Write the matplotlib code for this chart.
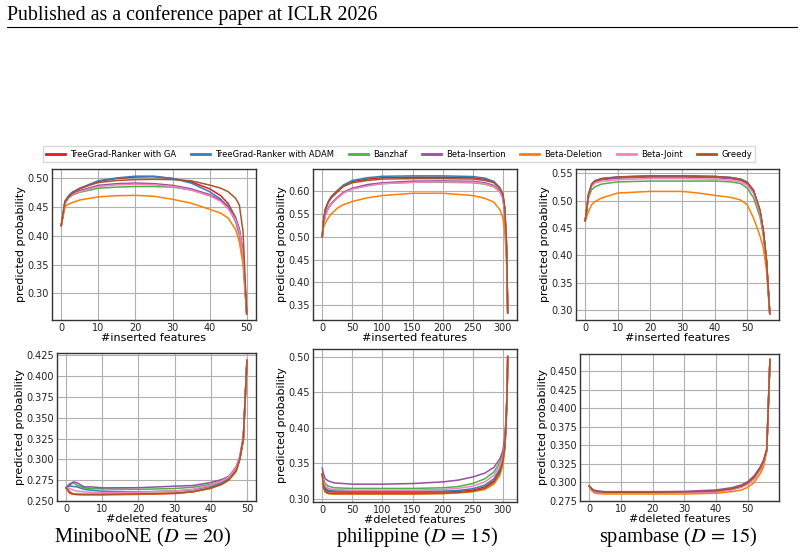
import matplotlib.pyplot as plt
from matplotlib.lines import Line2D
from matplotlib.ticker import MultipleLocator

plt.rcParams['mathtext.fontset'] = 'stix'

methods = ['TreeGrad-Ranker with GA', 'TreeGrad-Ranker with ADAM', 'Banzhaf',
           'Beta-Insertion', 'Beta-Deletion', 'Beta-Joint', 'Greedy']
colors = ['#e41a1c', '#377eb8', '#4daf4a', '#984ea3', '#ff7f00', '#f781bf', '#a65628']

# MiniBooNE, insertion
x_mb_ins = [0, 1, 2, 3, 5, 10, 15, 20, 25, 30, 35, 40, 43, 45, 47, 48, 49, 50]
mb_ins = [
    [0.418, 0.460, 0.470, 0.476, 0.482, 0.495, 0.500, 0.5025, 0.503, 0.500, 0.494, 0.482, 0.470, 0.456, 0.432, 0.412, 0.372, 0.264],
    [0.418, 0.460, 0.470, 0.476, 0.483, 0.496, 0.501, 0.504, 0.504, 0.500, 0.492, 0.477, 0.464, 0.450, 0.425, 0.402, 0.362, 0.264],
    [0.418, 0.456, 0.466, 0.471, 0.476, 0.483, 0.485, 0.486, 0.486, 0.485, 0.480, 0.470, 0.462, 0.452, 0.430, 0.410, 0.370, 0.264],
    [0.418, 0.458, 0.468, 0.473, 0.479, 0.488, 0.491, 0.492, 0.491, 0.488, 0.482, 0.472, 0.462, 0.450, 0.430, 0.410, 0.370, 0.264],
    [0.418, 0.451, 0.4556, 0.458, 0.4625, 0.468, 0.470, 0.4706, 0.469, 0.4637, 0.457, 0.4464, 0.4395, 0.431, 0.411, 0.390, 0.350, 0.264],
    [0.418, 0.457, 0.467, 0.472, 0.477, 0.486, 0.489, 0.490, 0.489, 0.486, 0.480, 0.470, 0.460, 0.447, 0.428, 0.408, 0.368, 0.264],
    [0.418, 0.460, 0.468, 0.474, 0.483, 0.493, 0.4965, 0.498, 0.4985, 0.498, 0.496, 0.4885, 0.483, 0.477, 0.4655, 0.454, 0.408, 0.264],
]

# philippine, insertion
x_ph_ins = [0, 2, 5, 10, 15, 25, 35, 50, 75, 100, 150, 200, 250, 270, 285, 295, 300, 303, 306, 308]
ph_ins = [
    [0.50, 0.534, 0.558, 0.575, 0.585, 0.598, 0.610, 0.620, 0.626, 0.629, 0.630, 0.630, 0.629, 0.626, 0.619, 0.605, 0.590, 0.560, 0.48, 0.333],
    [0.50, 0.535, 0.560, 0.577, 0.588, 0.601, 0.613, 0.623, 0.629, 0.632, 0.633, 0.633, 0.6315, 0.628, 0.621, 0.607, 0.592, 0.563, 0.48, 0.333],
    [0.50, 0.528, 0.547, 0.562, 0.572, 0.585, 0.596, 0.605, 0.612, 0.616, 0.619, 0.619, 0.618, 0.615, 0.609, 0.598, 0.585, 0.556, 0.47, 0.333],
    [0.50, 0.528, 0.548, 0.563, 0.573, 0.586, 0.597, 0.606, 0.614, 0.618, 0.6215, 0.622, 0.621, 0.618, 0.612, 0.600, 0.585, 0.555, 0.47, 0.333],
    [0.50, 0.520, 0.530, 0.541, 0.550, 0.5625, 0.570, 0.577, 0.585, 0.590, 0.595, 0.595, 0.590, 0.584, 0.5755, 0.559, 0.541, 0.512, 0.45, 0.333],
    [0.50, 0.527, 0.546, 0.561, 0.571, 0.584, 0.595, 0.604, 0.611, 0.616, 0.619, 0.620, 0.619, 0.616, 0.610, 0.598, 0.583, 0.553, 0.47, 0.333],
    [0.50, 0.535, 0.560, 0.576, 0.587, 0.600, 0.610, 0.618, 0.623, 0.626, 0.627, 0.627, 0.626, 0.623, 0.618, 0.606, 0.593, 0.565, 0.49, 0.333],
]

# spambase, insertion
x_sp_ins = [0, 1, 2, 3, 5, 10, 20, 30, 35, 40, 45, 48, 50, 52, 54, 55, 56, 57]
sp_ins = [
    [0.463, 0.510, 0.529, 0.535, 0.539, 0.542, 0.544, 0.544, 0.5435, 0.543, 0.541, 0.538, 0.532, 0.517, 0.480, 0.444, 0.390, 0.294],
    [0.463, 0.511, 0.530, 0.536, 0.540, 0.543, 0.545, 0.545, 0.5445, 0.544, 0.542, 0.539, 0.533, 0.518, 0.481, 0.445, 0.390, 0.294],
    [0.463, 0.505, 0.520, 0.525, 0.530, 0.534, 0.5355, 0.5355, 0.5355, 0.5355, 0.534, 0.531, 0.523, 0.505, 0.470, 0.437, 0.385, 0.294],
    [0.463, 0.509, 0.528, 0.534, 0.538, 0.541, 0.543, 0.543, 0.5425, 0.542, 0.540, 0.537, 0.531, 0.516, 0.479, 0.443, 0.390, 0.294],
    [0.463, 0.480, 0.4925, 0.498, 0.5045, 0.5137, 0.5167, 0.5167, 0.5137, 0.5095, 0.5058, 0.501, 0.4925, 0.468, 0.435, 0.414, 0.372, 0.294],
    [0.463, 0.508, 0.526, 0.532, 0.535, 0.538, 0.540, 0.540, 0.5395, 0.539, 0.537, 0.534, 0.528, 0.513, 0.477, 0.441, 0.388, 0.294],
    [0.463, 0.511, 0.530, 0.536, 0.540, 0.543, 0.545, 0.545, 0.5445, 0.544, 0.542, 0.539, 0.534, 0.519, 0.483, 0.447, 0.392, 0.294],
]

# MiniBooNE, deletion
x_mb_del = [0, 1, 2, 3, 5, 7, 10, 20, 30, 35, 40, 43, 45, 47, 48, 49, 50]
mb_del = [
    [0.266, 0.261, 0.2585, 0.2578, 0.2575, 0.2575, 0.2575, 0.258, 0.259, 0.261, 0.2658, 0.271, 0.276, 0.287, 0.300, 0.325, 0.419],
    [0.266, 0.268, 0.2675, 0.267, 0.264, 0.263, 0.2618, 0.261, 0.262, 0.2635, 0.2678, 0.272, 0.277, 0.288, 0.300, 0.325, 0.419],
    [0.266, 0.271, 0.272, 0.269, 0.2658, 0.265, 0.2646, 0.264, 0.265, 0.2665, 0.270, 0.274, 0.278, 0.287, 0.301, 0.323, 0.419],
    [0.266, 0.269, 0.273, 0.272, 0.267, 0.267, 0.2658, 0.266, 0.2678, 0.2686, 0.2722, 0.2758, 0.2798, 0.291, 0.303, 0.327, 0.419],
    [0.266, 0.2598, 0.2585, 0.258, 0.258, 0.258, 0.258, 0.2582, 0.2595, 0.261, 0.265, 0.270, 0.275, 0.285, 0.299, 0.323, 0.419],
    [0.266, 0.265, 0.263, 0.262, 0.261, 0.2605, 0.260, 0.2606, 0.262, 0.264, 0.269, 0.274, 0.279, 0.290, 0.303, 0.327, 0.419],
    [0.266, 0.2595, 0.258, 0.258, 0.258, 0.258, 0.258, 0.2585, 0.2595, 0.2612, 0.2655, 0.270, 0.2755, 0.2865, 0.300, 0.325, 0.419],
]

# philippine, deletion
x_ph_del = [0, 2, 5, 10, 20, 50, 100, 150, 200, 225, 250, 270, 285, 295, 300, 303, 305, 307, 308]
ph_del = [
    [0.335, 0.320, 0.313, 0.3097, 0.3093, 0.3093, 0.3093, 0.3093, 0.3093, 0.310, 0.312, 0.3165, 0.325, 0.339, 0.353, 0.372, 0.40, 0.45, 0.50],
    [0.335, 0.322, 0.315, 0.312, 0.311, 0.3106, 0.3106, 0.3106, 0.3106, 0.3115, 0.314, 0.319, 0.328, 0.342, 0.356, 0.375, 0.40, 0.45, 0.50],
    [0.335, 0.327, 0.3213, 0.3176, 0.3153, 0.3144, 0.3144, 0.3144, 0.3153, 0.317, 0.3213, 0.328, 0.3375, 0.351, 0.363, 0.381, 0.405, 0.45, 0.50],
    [0.343, 0.335, 0.328, 0.325, 0.3222, 0.3204, 0.3204, 0.3213, 0.3236, 0.326, 0.3305, 0.336, 0.344, 0.356, 0.3676, 0.386, 0.41, 0.45, 0.50],
    [0.335, 0.315, 0.309, 0.307, 0.3065, 0.3065, 0.3065, 0.3065, 0.307, 0.308, 0.3097, 0.313, 0.3204, 0.333, 0.347, 0.368, 0.395, 0.45, 0.50],
    [0.335, 0.324, 0.318, 0.3144, 0.3128, 0.312, 0.312, 0.312, 0.313, 0.3145, 0.3176, 0.3236, 0.333, 0.347, 0.3585, 0.377, 0.40, 0.45, 0.50],
    [0.335, 0.316, 0.310, 0.3075, 0.307, 0.307, 0.307, 0.307, 0.3075, 0.3085, 0.3105, 0.3145, 0.323, 0.337, 0.353, 0.373, 0.40, 0.45, 0.50],
]

# spambase, deletion
x_sp_del = [0, 1, 2, 5, 10, 20, 30, 40, 45, 48, 50, 52, 54, 55, 56, 57]
sp_del = [
    [0.2955, 0.290, 0.2875, 0.2862, 0.2862, 0.2862, 0.2865, 0.2875, 0.2905, 0.294, 0.298, 0.305, 0.318, 0.327, 0.344, 0.466],
    [0.2955, 0.290, 0.2877, 0.2864, 0.2864, 0.2864, 0.2867, 0.2878, 0.2908, 0.2943, 0.2985, 0.3055, 0.3185, 0.3275, 0.344, 0.466],
    [0.2955, 0.2905, 0.288, 0.2866, 0.2866, 0.2866, 0.287, 0.288, 0.291, 0.2945, 0.299, 0.306, 0.319, 0.328, 0.344, 0.466],
    [0.2955, 0.291, 0.289, 0.2876, 0.2876, 0.2876, 0.288, 0.2899, 0.293, 0.2967, 0.3012, 0.309, 0.3215, 0.3305, 0.345, 0.466],
    [0.2955, 0.288, 0.2854, 0.2845, 0.2845, 0.2845, 0.2845, 0.2854, 0.2876, 0.2899, 0.2935, 0.300, 0.3124, 0.3215, 0.342, 0.466],
    [0.2955, 0.2895, 0.2872, 0.286, 0.286, 0.286, 0.2863, 0.2873, 0.2903, 0.2938, 0.2978, 0.3045, 0.3175, 0.3265, 0.344, 0.466],
    [0.2955, 0.2905, 0.2882, 0.2868, 0.2868, 0.2868, 0.2872, 0.2885, 0.2915, 0.295, 0.2995, 0.307, 0.320, 0.329, 0.345, 0.466],
]

captions = [r'MinibooNE ($D\,=\,20$)', r'philippine ($D\,=\,15$)', r'spambase ($D\,=\,15$)']

W, H = 804, 556
fig = plt.figure(figsize=(W / 100, H / 100), dpi=100)


def add_ax(x0, y0, x1, y1):
    return fig.add_axes([x0 / W, 1 - y1 / H, (x1 - x0) / W, (y1 - y0) / H])


panels = [
    # pixel box, x, series, xlim, ylim, xstep, ystep, xlabel
    ((52, 169, 256, 320), x_mb_ins, mb_ins, (-2.5, 52.5), (0.2535, 0.5165), 10, 0.05, '#inserted features'),
    ((313, 169, 517, 320), x_ph_ins, ph_ins, (-15.4, 323.4), (0.318, 0.648), 50, 0.05, '#inserted features'),
    ((576, 169, 779, 320), x_sp_ins, sp_ins, (-2.85, 59.85), (0.2825, 0.5575), 10, 0.05, '#inserted features'),
    ((57, 353, 256, 501), x_mb_del, mb_del, (-2.5, 52.5), (0.250, 0.428), 10, 0.025, '#deleted features'),
    ((313, 349, 517, 502), x_ph_del, ph_del, (-15.4, 323.4), (0.2953, 0.5107), 50, 0.05, '#deleted features'),
    ((580, 354, 779, 501), x_sp_del, sp_del, (-2.85, 59.85), (0.275, 0.4735), 10, 0.025, '#deleted features'),
]

for box, xs, series, xlim, ylim, xstep, ystep, xlabel in panels:
    ax = add_ax(*box)
    for ys, c in zip(series, colors):
        ax.plot(xs, ys, color=c, lw=1.1)
    ax.set_xlim(*xlim)
    ax.set_ylim(*ylim)
    ax.xaxis.set_major_locator(MultipleLocator(xstep))
    ax.yaxis.set_major_locator(MultipleLocator(ystep))
    ax.grid(True, color='#b0b0b0', lw=0.8)
    ax.set_axisbelow(True)
    ax.tick_params(length=0, pad=2, labelsize=7, colors='#222222')
    for s in ax.spines.values():
        s.set_color('#333333')
        s.set_linewidth(1.0)
    ax.set_xlabel(xlabel, fontsize=8, labelpad=0)
    ax.set_ylabel('predicted probability', fontsize=8, labelpad=1)

for cx, cap in zip([142, 417, 678], captions):
    fig.text(cx / W, 1 - 537 / H, cap, family='Liberation Serif', fontsize=14.7,
             ha='center', va='center')

handles = [Line2D([], [], color=c, lw=2) for c in colors]
fig.legend(handles, methods, loc='center', bbox_to_anchor=(399 / W, 1 - 154 / H),
           ncol=7, fontsize=6, frameon=True, fancybox=False, edgecolor='#d0d0d0',
           handlelength=2.3, handletextpad=0.6, columnspacing=1.75, borderpad=0.4)

fig.text(7 / W, 1 - 20 / H, 'Published as a conference paper at ICLR 2026',
         family='Liberation Serif', fontsize=14.3, ha='left', va='baseline')
fig.add_artist(Line2D([7 / W, 797 / W], [1 - 27 / H, 1 - 27 / H], color='black', lw=0.8))

fig.savefig('out.png', dpi=100)
